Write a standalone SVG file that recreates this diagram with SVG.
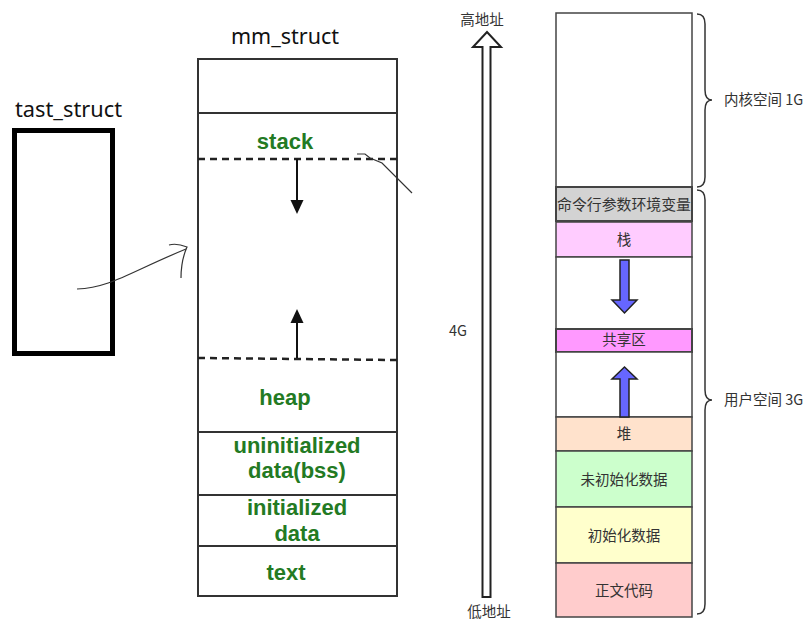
<svg xmlns="http://www.w3.org/2000/svg" width="811" height="624" viewBox="0 0 811 624">
<style>
.lbl{font-family:"Noto Sans","DejaVu Sans",sans-serif;font-size:21px;fill:#111;}
.g{font-family:"Liberation Sans",Arial,sans-serif;font-weight:bold;font-size:22px;fill:#237a23;text-anchor:middle;}
.cn{font-family:"Noto Sans CJK SC",sans-serif;font-size:14.5px;fill:#333;text-anchor:middle;}
.cnl{font-family:"Noto Sans CJK SC",sans-serif;font-size:14.5px;fill:#333;}
.seg{stroke:#333;stroke-width:2;}
.mm{fill:#fff;stroke:#333;stroke-width:2;}
.dash{stroke:#222;stroke-width:2.5;stroke-dasharray:7,5;fill:none;}
.blue{fill:#6666ff;stroke:#222;stroke-width:1.5;}
.brace{fill:none;stroke:#333;stroke-width:1.5;}
.conn{fill:none;stroke:#333;stroke-width:1.2;}
</style>
<rect width="811" height="624" fill="#fff"/>

<g id="tast_struct">
<text class="lbl" x="15" y="117" textLength="107" lengthAdjust="spacingAndGlyphs">tast_struct</text>
<rect x="14.5" y="130.5" width="98" height="223" fill="none" stroke="#000" stroke-width="5"/>
</g>

<g id="mm_struct">
<text class="lbl" x="231" y="44" textLength="108" lengthAdjust="spacingAndGlyphs">mm_struct</text>
<rect class="mm" x="198" y="59" width="199" height="537"/>
<line class="seg" x1="198" y1="113" x2="397" y2="113"/>
<line class="dash" x1="198" y1="159" x2="397" y2="159"/>
<line class="dash" x1="198" y1="358" x2="397" y2="360"/>
<line class="seg" x1="198" y1="432" x2="397" y2="432"/>
<line class="seg" x1="198" y1="495" x2="397" y2="495"/>
<line class="seg" x1="198" y1="546" x2="397" y2="546"/>
<text class="g" x="285" y="149">stack</text>
<text class="g" x="285" y="405">heap</text>
<text class="g" x="297" y="453">uninitialized</text>
<text class="g" x="297" y="478">data(bss)</text>
<text class="g" x="297" y="515">initialized</text>
<text class="g" x="297" y="541">data</text>
<text class="g" x="286" y="580">text</text>
<line x1="297" y1="159" x2="297" y2="202" stroke="#111" stroke-width="2"/>
<polygon points="290.5,200 303.5,200 297,214" fill="#111"/>
<line x1="297" y1="358" x2="297" y2="320" stroke="#111" stroke-width="2"/>
<polygon points="290.5,323 303.5,323 297,309" fill="#111"/>
</g>

<g id="connectors">
<path class="conn" d="M77,289 C110,288 130,272 186,249"/>
<path class="conn" d="M169,245 C176,243 182,245 187,247 C183,256 181,265 181,278"/>
<path class="conn" d="M357,154 L365,154 L370,158 L382,163 L412,193"/>
</g>

<g id="address_arrow">
<text class="cn" x="482" y="25">高地址</text>
<path d="M482.5,597 L482.5,47 L473,47 L487,32 L501,47 L490.5,47 L490.5,597 Z" fill="#fff" stroke="#222" stroke-width="2"/>
<text class="cn" x="458" y="336">4G</text>
<text class="cn" x="489" y="617">低地址</text>
</g>

<g id="memory_column">
<rect x="556" y="13" width="136" height="174" fill="#fff" stroke="#444" stroke-width="1.5"/>
<rect x="556" y="187" width="136" height="34" fill="#d3d3d3" stroke="#444" stroke-width="2"/>
<text class="cn" x="624" y="210" textLength="134" lengthAdjust="spacingAndGlyphs">命令行参数环境变量</text>
<rect x="556" y="222" width="136" height="35" fill="#ffccff" stroke="#444" stroke-width="1.5"/>
<text class="cn" x="624" y="245">栈</text>
<rect x="556" y="257" width="136" height="72" fill="#fff" stroke="#444" stroke-width="1.5"/>
<rect x="556" y="329" width="136" height="23" fill="#ff99ff" stroke="#444" stroke-width="2"/>
<text class="cn" x="624" y="345">共享区</text>
<rect x="556" y="352" width="136" height="65" fill="#fff" stroke="#444" stroke-width="1.5"/>
<rect x="556" y="417" width="136" height="34" fill="#ffe2cc" stroke="#444" stroke-width="1.5"/>
<text class="cn" x="624" y="439">堆</text>
<rect x="556" y="451" width="136" height="56" fill="#ccffcc" stroke="#444" stroke-width="1.5"/>
<text class="cn" x="624" y="485">未初始化数据</text>
<rect x="556" y="507" width="136" height="56" fill="#ffffcc" stroke="#444" stroke-width="1.5"/>
<text class="cn" x="624" y="541">初始化数据</text>
<rect x="556" y="563" width="136" height="54" fill="#ffcccc" stroke="#444" stroke-width="1.5"/>
<text class="cn" x="624" y="596">正文代码</text>
<polygon class="blue" points="620,260 629,260 629,300 637,300 624.5,313 612,300 620,300"/>
<polygon class="blue" points="620,417 629,417 629,379 637,379 624.5,367 612,379 620,379"/>
</g>

<g id="braces">
<path class="brace" d="M697,14 Q705,14 705,24 L705,90 Q705,100 712,100 Q705,100 705,110 L705,177 Q705,187 697,187"/>
<path class="brace" d="M697,190 Q705,190 705,200 L705,390 Q705,400 712,400 Q705,400 705,410 L705,604 Q705,614 697,614"/>
<text class="cnl" x="724" y="105">内核空间 1G</text>
<text class="cnl" x="724" y="405">用户空间 3G</text>
</g>
</svg>
